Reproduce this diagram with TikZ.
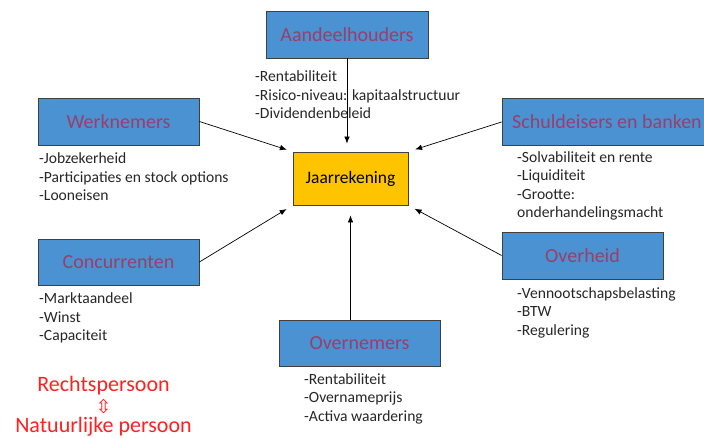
\documentclass[tikz,border=0pt]{standalone}
\usepackage{fontspec}
\setmainfont{Carlito}
\newfontfamily\arrowfont{DejaVu Sans}
\usetikzlibrary{arrows.meta,calc,positioning}
\definecolor{boxblue}{RGB}{75,146,210}
\definecolor{boxtext}{RGB}{155,62,105}
\definecolor{jaargold}{RGB}{255,196,0}
\definecolor{rechtred}{RGB}{255,32,32}

\begin{document}
\begin{tikzpicture}[x=1pt,y=-1pt,
    party/.style={draw=black!75,fill=boxblue,text=boxtext,minimum width=161pt,minimum height=47pt,font=\fontsize{20}{24}\selectfont,line width=0.8pt},
    need/.style={anchor=base west,align=left,inner sep=0pt,font=\fontsize{15.6}{18.5}\selectfont,text=black!85},
    infl/.style={-{Latex[length=7pt,width=5.5pt]},line width=0.7pt},
    recht/.style={anchor=base,inner sep=0pt,text=rechtred,font=\fontsize{22}{26}\selectfont}]

    \useasboundingbox (0,0) rectangle (704,438);

    \node[draw=black!75,fill=jaargold,line width=0.8pt,minimum width=115pt,minimum height=53pt,font=\fontsize{17.5}{21}\selectfont] (jaar) at (350.5,178.5) {Jaarrekening};

    \node[party,minimum width=162pt] (aandeel) at (347,34.5) {Aandeelhouders};
    \node[party] (werk) at (118.5,121.5) {Werknemers};
    \node[party,minimum width=210pt] (schuld) at (607,122) {Schuldeisers en banken};
    \node[party] (overheid) at (582.5,255.5) {Overheid};
    \node[party,minimum height=46pt] (concur) at (118.5,262) {Concurrenten};
    \node[party,minimum height=46pt] (overn) at (359.5,343) {Overnemers};

    % anchored on the baseline of the last line
    \node[need] (aandeel-txt) at (255,119) {-Rentabiliteit\\-Risico-niveau: kapitaalstructuur\\-Dividendenbeleid};
    \node[need] (werk-txt) at (39,201) {-Jobzekerheid\\-Participaties en stock options\\-Looneisen};
    \node[need] (schuld-txt) at (517,218) {-Solvabiliteit en rente\\-Liquiditeit\\-Grootte:\\onderhandelingsmacht};
    \node[need] (overheid-txt) at (517,335) {-Vennootschapsbelasting\\-BTW\\-Regulering};
    \node[need] (concur-txt) at (39,341) {-Marktaandeel\\-Winst\\-Capaciteit};
    \node[need] (overn-txt) at (304,421) {-Rentabiliteit\\-Overnameprijs\\-Activa waardering};

    \draw[infl,shorten >=8pt] (aandeel.south) -- (aandeel.south |- jaar.north);
    \draw[infl,shorten >=6pt] (werk.east) -- (jaar.north west);
    \draw[infl,shorten >=7pt] (schuld.west) -- (jaar.north east);
    \draw[infl,shorten >=7pt] (concur.east) -- (jaar.south west);
    \draw[infl,shorten >=7pt] (overheid.west) -- (jaar.south east);
    \draw[infl,shorten >=10pt] (overn.north -| jaar.south) -- (jaar.south);

    \node[recht] (rechtsp) at (103.5,391) {Rechtspersoon};
    \node[text=rechtred,inner sep=0pt,font=\arrowfont\fontsize{19}{22}\selectfont] (wissel) at (103.5,406.5) {⇳};
    \node[recht] (natuur) at (103.5,432) {Natuurlijke persoon};
\end{tikzpicture}
\end{document}
